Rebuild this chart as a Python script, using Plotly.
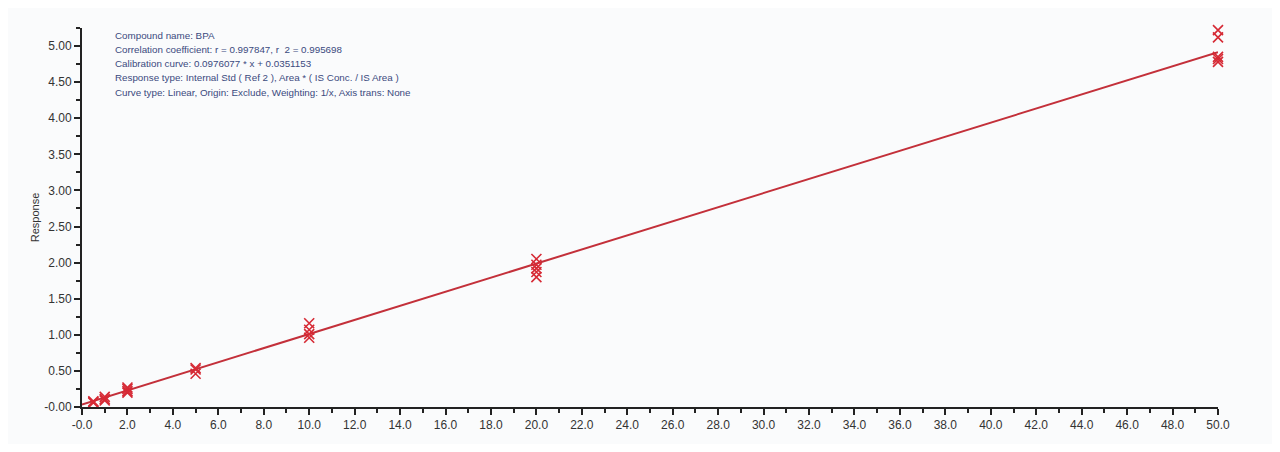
import plotly.graph_objects as go

conc = [0.5, 0.5, 0.5, 1, 1, 1, 2, 2, 2, 2, 5, 5, 5, 10, 10, 10, 10, 20, 20, 20, 20, 20, 50, 50, 50, 50, 50]
resp = [0.08, 0.07, 0.06, 0.14, 0.11, 0.09, 0.27, 0.25, 0.22, 0.20, 0.54, 0.52, 0.46,
        1.16, 1.07, 1.01, 0.96, 2.05, 1.97, 1.92, 1.87, 1.80, 5.22, 5.12, 4.85, 4.82, 4.78]
slope = 0.0976077
intercept = 0.0351153
fit_x = [0, 50]
fit_y = [intercept + slope * v for v in fit_x]

info_lines = [
    "Compound name: BPA",
    "Correlation coefficient: r = 0.997847, r  2 = 0.995698",
    "Calibration curve: 0.0976077 * x + 0.0351153",
    "Response type: Internal Std ( Ref 2 ), Area * ( IS Conc. / IS Area )",
    "Curve type: Linear, Origin: Exclude, Weighting: 1/x, Axis trans: None",
]

x_ticks = [i * 2 for i in range(26)]
x_labels = ["-0.0"] + [f"{v:.1f}" for v in x_ticks[1:]]
y_ticks = [i * 0.5 for i in range(11)]
y_labels = ["-0.00"] + [f"{v:.2f}" for v in y_ticks[1:]]

fig = go.Figure()
fig.add_trace(go.Scatter(x=fit_x, y=fit_y, mode="lines",
                         line=dict(color="#c3303a", width=2), hoverinfo="skip"))
fig.add_trace(go.Scatter(x=conc, y=resp, mode="markers",
                         marker=dict(symbol="x-thin", size=10, line=dict(color="#d62a35", width=1.6)),
                         cliponaxis=False))

for i, line in enumerate(info_lines):
    fig.add_annotation(x=0, y=1, xref="paper", yref="paper", xshift=31, yshift=-7 - 14.3 * i,
                       xanchor="left", yanchor="middle", align="left", showarrow=False,
                       text=line,
                       font=dict(family="Liberation Sans Narrow, Arial Narrow, sans-serif", size=9.8, color="#3b4a7e"))

axis_common = dict(showline=True, linecolor="#222222", linewidth=2, ticks="outside",
                   tickcolor="#222222", tickwidth=2, ticklen=6, showgrid=False, zeroline=False,
                   tickfont=dict(family="Liberation Sans Narrow, sans-serif", size=12, color="#333333"))

fig.update_layout(
    width=1264, height=436,
    margin=dict(l=74, r=54, t=20, b=37),
    paper_bgcolor="#fafbfc", plot_bgcolor="#fafbfc",
    showlegend=False,
    xaxis=dict(range=[0, 50], tickvals=x_ticks, ticktext=x_labels,
               minor=dict(dtick=1, ticks="outside", ticklen=4, tickcolor="#222222", tickwidth=2),
               **axis_common),
    yaxis=dict(range=[0, 5.25], tickvals=y_ticks, ticktext=y_labels,
               minor=dict(dtick=0.25, ticks="outside", ticklen=4, tickcolor="#222222", tickwidth=2),
               title=dict(text="Response", font=dict(family="Liberation Sans Narrow, sans-serif", size=11, color="#333333"), standoff=2),
               **axis_common),
)

fig.write_html("out.html")
